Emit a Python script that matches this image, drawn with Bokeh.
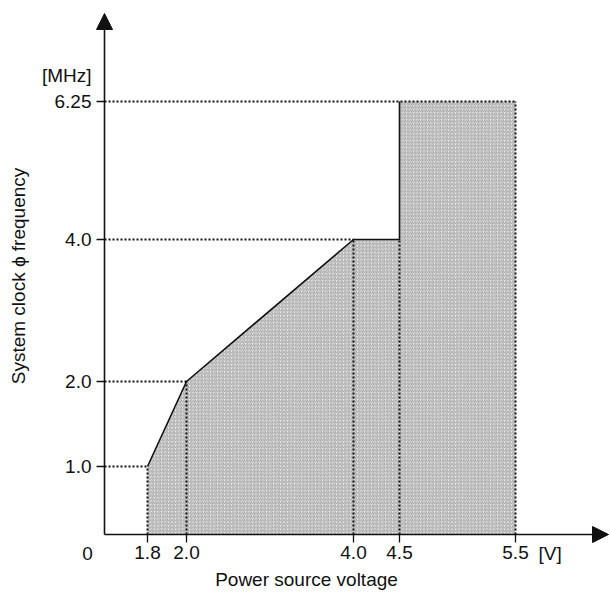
import numpy as np
from bokeh.plotting import figure
from bokeh.models import Range1d, FixedTicker, Arrow, NormalHead, LinearAxis
from bokeh.core.properties import value
from bokeh.embed import file_html
from bokeh.resources import INLINE

# ---- data ----
voltage_ticks = [1.8, 2.0, 4.0, 4.5, 5.5]
voltage_labels = ["1.8", "2.0", "4.0", "4.5", "5.5"]
freq_ticks = [1.0, 2.0, 4.0, 6.25]
freq_labels = ["1.0", "2.0", "4.0", "6.25"]
# operating area boundary
area_voltage = [1.8, 1.8, 2.0, 4.0, 4.5, 4.5, 5.5, 5.5]
area_freq = [0.0, 1.0, 2.0, 4.0, 4.0, 6.25, 6.25, 0.0]
# solid upper edge
edge_voltage = [1.8, 2.0, 4.0, 4.5, 4.5]
edge_freq = [1.0, 2.0, 4.0, 4.0, 6.25]
# height of the area at each voltage tick
top_freq_at_voltage = [1.0, 2.0, 4.0, 4.0, 6.25]
# voltage reached by each frequency guide
guide_voltage_at_freq = [1.8, 2.0, 4.0, 5.5]

# ---- schematic (non-linear) axis layout, in canvas pixels from the origin ----
X_BREAKS = [0.0, 1.8, 2.0, 4.0, 4.5, 5.5, 6.6]
X_SLOTS = [0, 43, 82, 249, 295, 411, 504]
Y_BREAKS = [0.0, 1.0, 2.0, 4.0, 6.25, 7.0]
Y_SLOTS = [0, 68, 153, 295, 433, 521]
ORIGIN_X, ORIGIN_Y = 104, 534   # origin inside the 610x595 canvas
W, H = 610, 595


def sx(v):
    return np.interp(v, X_BREAKS, X_SLOTS)


def sy(f):
    return np.interp(f, Y_BREAKS, Y_SLOTS)


FONT = "Liberation Sans"
FS = "19px"
INK = "#111111"

p = figure(width=W, height=H, output_backend="svg", toolbar_location=None,
           x_range=Range1d(-ORIGIN_X, W - ORIGIN_X),
           y_range=Range1d(ORIGIN_Y - H, ORIGIN_Y),
           x_axis_type=None, y_axis_type=None,
           min_border=0)
p.outline_line_color = None
p.background_fill_color = "white"
p.border_fill_color = "white"

# hatched operating area
p.patch(sx(area_voltage), sy(area_freq), fill_color="#f3f3f3",
        hatch_pattern="/", hatch_color="#9c9c9c", hatch_scale=3.5,
        hatch_weight=1, line_color=None)

# dotted guide lines
xs, ys = [], []
for f, v in zip(freq_ticks, guide_voltage_at_freq):
    xs.append([float(sx(0.0)), float(sx(v))])
    ys.append([float(sy(f)), float(sy(f))])
for v, f in zip(voltage_ticks, top_freq_at_voltage):
    xs.append([float(sx(v)), float(sx(v))])
    ys.append([float(sy(0.0)), float(sy(f))])
p.multi_line(xs, ys, line_color=INK, line_width=2, line_dash="2 2")

# solid boundary
p.line(sx(edge_voltage), sy(edge_freq), line_color=INK, line_width=1.6)

# axes crossing at the origin
xt = [float(v) for v in sx(voltage_ticks)]
yt = [float(v) for v in sy(freq_ticks)]
xaxis = LinearAxis(fixed_location=0, bounds=(0, X_SLOTS[-1] - 4),
                   ticker=FixedTicker(ticks=xt),
                   major_label_overrides={t: l for t, l in zip(xt, voltage_labels)})
yaxis = LinearAxis(fixed_location=0, bounds=(0, Y_SLOTS[-1] - 4),
                   ticker=FixedTicker(ticks=yt),
                   major_label_overrides={t: l for t, l in zip(yt, freq_labels)})
for ax in (xaxis, yaxis):
    ax.axis_line_color = INK
    ax.axis_line_width = 1.6
    ax.major_tick_line_color = INK
    ax.major_tick_line_width = 1.3
    ax.major_tick_out = 8
    ax.major_tick_in = 0
    ax.minor_tick_line_color = None
    ax.major_label_text_font = FONT
    ax.major_label_text_font_size = FS
    ax.major_label_text_color = INK
xaxis.major_label_standoff = 3
yaxis.major_label_standoff = 5
yaxis.axis_label = "System clock \u03d5 frequency"
yaxis.axis_label_text_font = FONT
yaxis.axis_label_text_font_size = FS
yaxis.axis_label_text_font_style = "normal"
yaxis.axis_label_text_color = INK
yaxis.axis_label_standoff = 23
p.add_layout(xaxis, "below")
p.add_layout(yaxis, "left")

# axis arrow heads
p.add_layout(Arrow(end=NormalHead(size=16, fill_color=INK, line_color=INK),
                   x_start=X_SLOTS[-1] - 3, y_start=0, x_end=X_SLOTS[-1], y_end=0,
                   line_color=INK, line_width=1.6))
p.add_layout(Arrow(end=NormalHead(size=16, fill_color=INK, line_color=INK),
                   x_start=0, y_start=Y_SLOTS[-1] - 3, x_end=0, y_end=Y_SLOTS[-1],
                   line_color=INK, line_width=1.6))

# extra texts
def lab(text, x, y, align):
    p.text(x=[x], y=[y], text=[text], text_font=value(FONT), text_font_size=FS,
           text_color=INK, text_align=align, text_baseline="middle")

lab("0", -17, -19, "center")
lab("[MHz]", -13, 459, "right")
lab("[V]", 434, -19, "left")
lab("Power source voltage", 202, -45, "center")

open("out.html", "w").write(file_html(p, INLINE))
